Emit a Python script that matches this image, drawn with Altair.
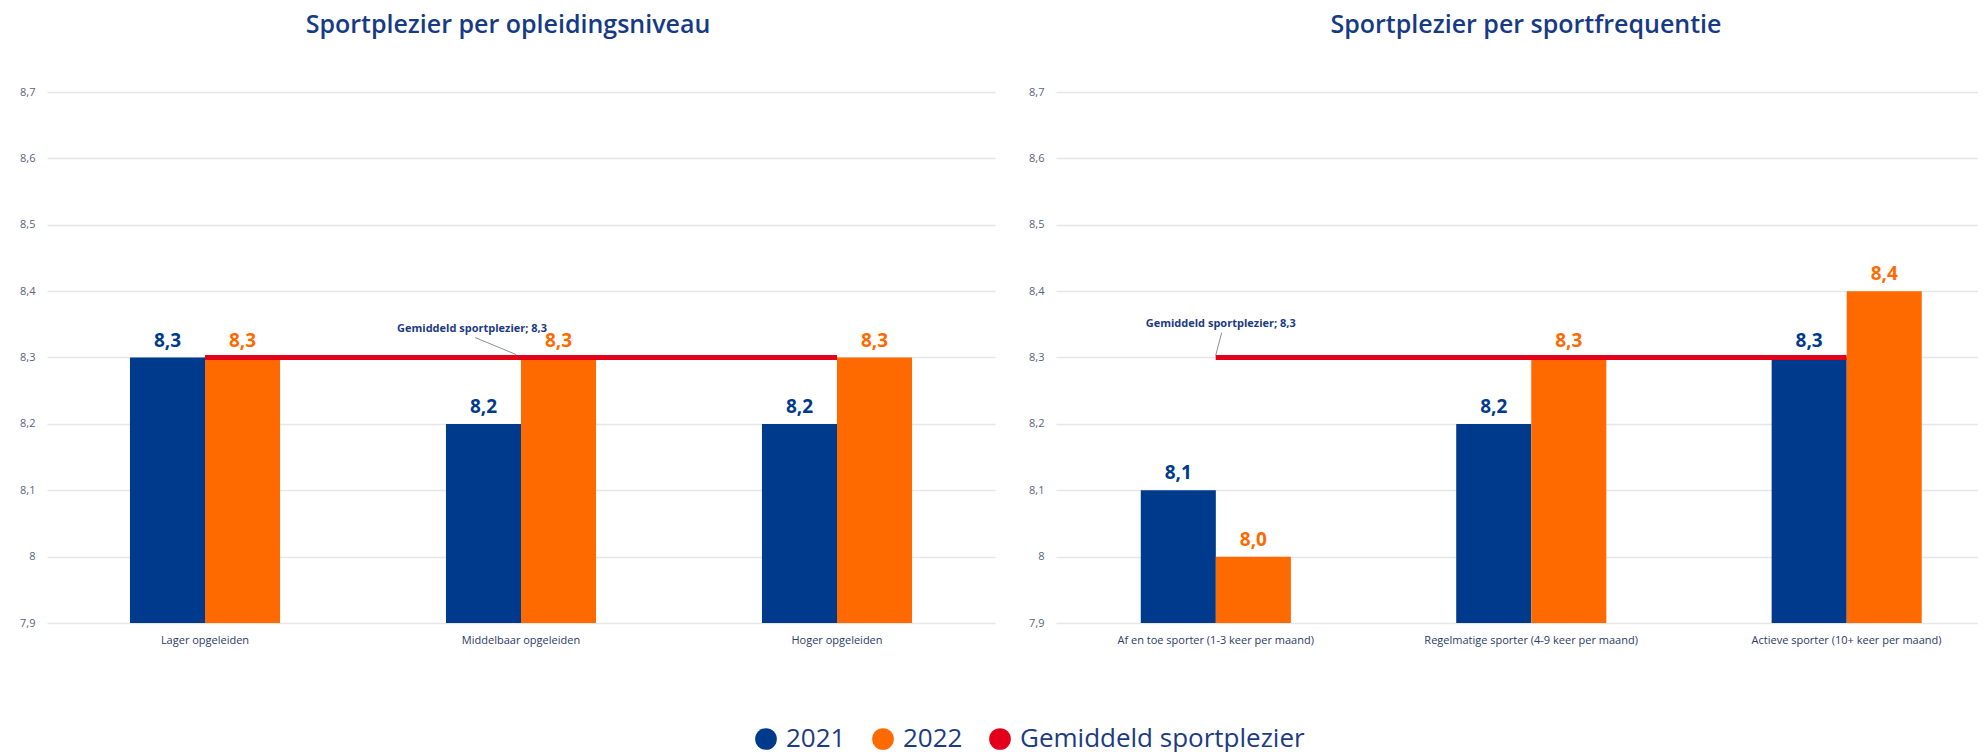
import altair as alt
import pandas as pd

# ---------------- data ----------------
edu_categories = ["Lager opgeleiden", "Middelbaar opgeleiden", "Hoger opgeleiden"]
edu_2021 = [8.3, 8.2, 8.2]
edu_2022 = [8.3, 8.3, 8.3]

freq_categories = [
    "Af en toe sporter (1-3 keer per maand)",
    "Regelmatige sporter (4-9 keer per maand)",
    "Actieve sporter (10+ keer per maand)",
]
freq_2021 = [8.1, 8.2, 8.3]
freq_2022 = [8.0, 8.3, 8.4]

years = ["2021", "2022"]
avg_label = "Gemiddeld sportplezier"
avg_value = 8.3
annotation_text = "Gemiddeld sportplezier; 8,3"

y_min, y_max = 7.9, 8.7
y_ticks = [7.9, 8.0, 8.1, 8.2, 8.3, 8.4, 8.5, 8.6, 8.7]
titles = ["Sportplezier per opleidingsniveau", "Sportplezier per sportfrequentie"]

NAVY = "#003a8c"
ORANGE = "#ff6a00"
RED = "#e2001a"
TEXT_NAVY = "#1c3b84"

series_domain = years + [avg_label]
series_range = [NAVY, ORANGE, RED]


def fmt(v):
    return f"{v:.1f}".replace(".", ",")


def panel(cats, v21, v22, title, width, pad_outer, align, title_dx,
          ann_cat, ann_dx, ann_dy, lead_offsets):
    bars_df = pd.DataFrame({
        "cat": cats * 2,
        "series": [years[0]] * len(cats) + [years[1]] * len(cats),
        "value": v21 + v22,
    })
    bars_df["label"] = [fmt(v) for v in bars_df["value"]]

    avg_df = pd.DataFrame({"start": [cats[0]], "end": [cats[-1]],
                           "value": [avg_value], "series": [avg_label]})
    ann_df = pd.DataFrame({"cat": [ann_cat], "cat2": [ann_cat],
                           "value": [avg_value], "text": [annotation_text]})

    xscale = alt.Scale(domain=cats, paddingInner=0.525, paddingOuter=pad_outer, align=align)
    yscale = alt.Scale(domain=[y_min, y_max], nice=False, zero=False)
    cscale = alt.Scale(domain=series_domain, range=series_range)

    xaxis = alt.Axis(title=None, labelAngle=0, labelFontSize=11, labelColor="#2b3a6b",
                     labelPadding=11, ticks=False, domain=False, grid=False, labelLimit=0)
    yaxis = alt.Axis(title=None, values=y_ticks, labelFontSize=11, labelColor="#5b6380",
                     labelPadding=12, ticks=False, domain=False, grid=True,
                     gridColor="#e6e6e6", gridWidth=1.6, minExtent=39,
                     labelExpr="replace(toString(round(datum.value*10)/10), '.', ',')")

    legend = alt.Legend(title=None, orient="none", direction="horizontal",
                        legendX=706, legendY=634, symbolType="circle", symbolSize=470,
                        symbolStrokeWidth=0, labelFontSize=26, labelColor=TEXT_NAVY,
                        labelFont="Open Sans", labelOffset=7, columnPadding=24,
                        labelLimit=0, padding=0, symbolOpacity=1)

    x = alt.X("cat:N", scale=xscale, axis=xaxis)
    y = alt.Y("value:Q", scale=yscale, axis=yaxis)
    xoff = alt.XOffset("series:N", scale=alt.Scale(domain=years, paddingInner=0, paddingOuter=0))

    bars = alt.Chart(bars_df).mark_bar().encode(
        x=x, y=y, y2=alt.datum(y_min), xOffset=xoff,
        color=alt.Color("series:N", scale=cscale, legend=legend),
    )

    def label_layer(year, colour):
        return alt.Chart(bars_df).transform_filter(
            alt.datum.series == year
        ).mark_text(dy=-17, fontSize=19, fontWeight="bold", font="Open Sans",
                    color=colour).encode(x=x, y=y, xOffset=xoff, text="label:N")

    labels21 = label_layer(years[0], NAVY)
    labels22 = label_layer(years[1], ORANGE)

    avg_rule = alt.Chart(avg_df).mark_rule(strokeWidth=5, color=RED).encode(
        x=alt.X("start:N", scale=xscale, axis=xaxis, bandPosition=0.5),
        x2=alt.X2("end:N", bandPosition=0.5),
        y=y,
    )

    lx1, lx2, ly1, ly2 = lead_offsets
    leader = alt.Chart(ann_df).mark_rule(strokeWidth=1, color="#8a8f9c",
                                         xOffset=lx1, x2Offset=lx2,
                                         yOffset=ly1, y2Offset=ly2).encode(
        x=alt.X("cat:N", scale=xscale, axis=xaxis, bandPosition=0.5),
        x2=alt.X2("cat2:N", bandPosition=0.5),
        y=y,
        y2=alt.Y2("value:Q"),
    )

    ann = alt.Chart(ann_df).mark_text(dx=ann_dx, dy=ann_dy, fontSize=11, fontWeight="bold",
                                      color=TEXT_NAVY, font="Open Sans").encode(
        x=alt.X("cat:N", scale=xscale, axis=xaxis),
        y=y, text="text:N",
    )

    return alt.layer(bars, avg_rule, leader, labels21, labels22, ann).properties(
        width=width, height=531,
        title=alt.TitleParams(title, fontSize=25, font="Open Sans", fontWeight=600,
                              color="#163a85", offset=48, dx=title_dx, anchor="middle"),
    )


left = panel(edu_categories, edu_2021, edu_2022, titles[0], 948, 0.2625, 0.5, -13,
             edu_categories[1], -49, -29, (-46, -5, -20, -3))
right = panel(freq_categories, freq_2021, freq_2022, titles[1], 922, 0.224, 0.6, 9,
              freq_categories[0], 5, -34, (6, 0, -25, -2))

chart = alt.hconcat(left, right, spacing=22).properties(
    padding={"top": 5, "left": 0, "right": 0, "bottom": 0}
).configure(
    font="Open Sans",
    view=alt.ViewConfig(stroke=None),
)

chart.save("out.html", embed_options={"renderer": "svg", "actions": False})
